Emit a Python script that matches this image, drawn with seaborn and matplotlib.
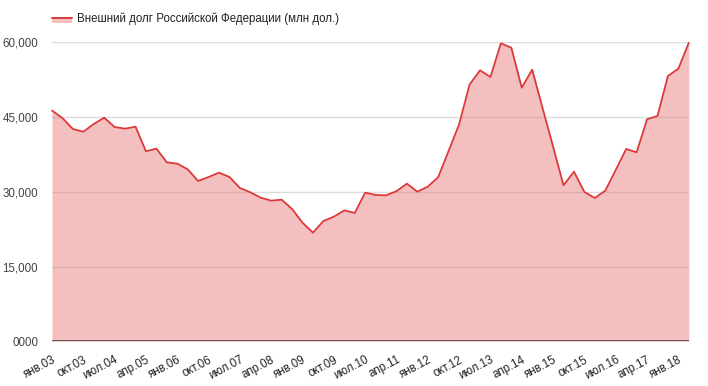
import matplotlib
matplotlib.use("Agg")
import matplotlib.pyplot as plt
import seaborn as sns
import numpy as np
import pandas as pd
from matplotlib.patches import Rectangle
from matplotlib.lines import Line2D

months = ["янв", "апр", "июл", "окт"]
years = list(range(3, 19))
quarters = [f"{m}.{y:02d}" for y in years for m in months][:62]

debt = [46300, 44800, 42600, 42060, 43600, 44870, 43000, 42670, 43070, 38130,
        38660, 35920, 35650, 34510, 32170, 32970, 33840, 32970, 30760, 29900,
        28820, 28220, 28420, 26550, 23800, 21800, 24140, 25010, 26280, 25750,
        29830, 29360, 29290, 30130, 31630, 30030, 31030, 32970, 38250, 43540,
        51500, 54380, 53040, 59800, 58920, 50890, 54500, 46750, 39050, 31300,
        34040, 29960, 28760, 30230, 34370, 38590, 37920, 44550, 45210, 53240,
        54700, 59900]

yticks = [0, 15000, 30000, 45000, 60000]
ytick_labels = ["0000", "15,000", "30,000", "45,000", "60,000"]
legend_label = "Внешний долг Российской Федерации (млн дол.)"

df = pd.DataFrame({"i": np.arange(len(debt)), "v": debt, "q": quarters})

sns.set_theme(style="white")
plt.rcParams["font.family"] = ["Liberation Sans", "DejaVu Sans"]

line_col = "#dc3a3a"
fill_col = "#e57373"

fig = plt.figure(figsize=(7.08, 3.86), dpi=100)
ax = fig.add_axes([52 / 708, 1 - 341.3 / 386, (688.8 - 52) / 708, (341.3 - 42.3) / 386])

for yt in yticks[1:]:
    ax.axhline(yt, color="#dcdcdc", lw=1, zorder=0)

ax.fill_between(df["i"], df["v"], 0, color=fill_col, alpha=0.45, lw=0, zorder=1)
sns.lineplot(data=df, x="i", y="v", ax=ax, color=line_col, lw=1.3, zorder=3)
for l in ax.lines[-1:]:
    l.set_clip_on(False)
ax.axhline(0, color="#444444", lw=1.2, zorder=4)

ax.set_xlim(0, len(debt) - 1)
ax.set_ylim(0, 60000)
ax.set_yticks(yticks)
ax.set_yticklabels(ytick_labels, color="#444444", fontsize=8.3)
tick_idx = list(range(0, len(debt), 3))
ax.set_xticks(tick_idx)
ax.set_xticklabels([quarters[i] for i in tick_idx], rotation=28, ha="right",
                   rotation_mode="anchor", color="#222222", fontsize=8.3)
for lbl in ax.get_xticklabels():
    lbl.set_x(lbl.get_position()[0])
ax.tick_params(axis="both", length=0)
ax.tick_params(axis="y", pad=10)
ax.tick_params(axis="x", pad=9)
ax.set_xlabel("")
ax.set_ylabel("")
for s in ax.spines.values():
    s.set_visible(False)

# legend
fig.patches.append(Rectangle((52 / 708, 1 - 23 / 386), 20 / 708, 6 / 386,
                             transform=fig.transFigure, facecolor=fill_col,
                             alpha=0.45, edgecolor="none"))
fig.lines.append(Line2D([52 / 708, 72 / 708], [1 - 17.5 / 386, 1 - 17.5 / 386],
                        transform=fig.transFigure, color=line_col, lw=1.4))
fig.text(77 / 708, 1 - 19 / 386, legend_label, fontsize=8.3, color="#222222",
         va="center", ha="left")

fig.savefig("out.png", dpi=100)
